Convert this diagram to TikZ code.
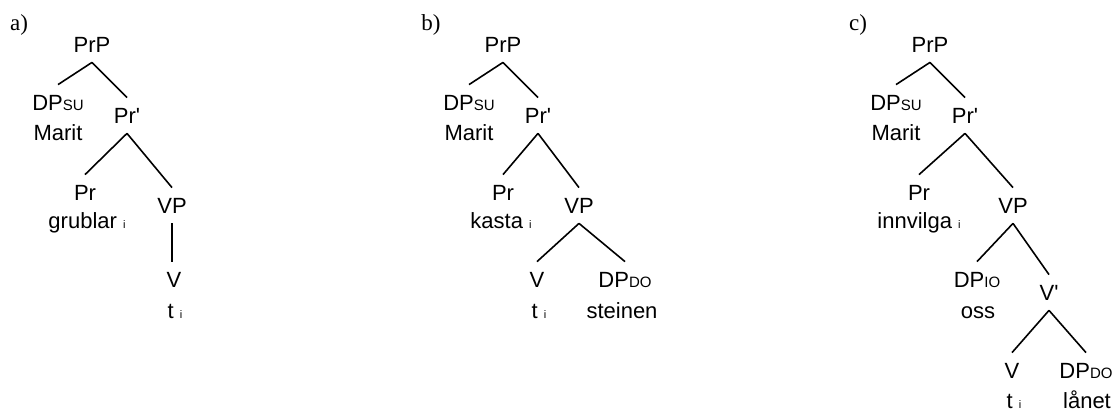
\documentclass[tikz,border=0pt]{standalone}
\usepackage{fontspec}
\newfontfamily\treefont{Liberation Sans}
\newfontfamily\panelfont{Liberation Serif}
\usepackage{tikz}

% small category index (DP_SU etc.) and trace index
\newcommand{\subcat}[1]{{\fontsize{7.5}{8}\selectfont #1}}
\newcommand{\coidx}[1]{{\fontsize{5.5}{6}\selectfont #1}}

\tikzset{
	cat/.style={font=\treefont\fontsize{11}{13}\selectfont, anchor=base,
		text height=7.5pt, text depth=0pt, inner xsep=1pt, inner ysep=5pt},
	panel/.style={font=\panelfont\fontsize{11.5}{13}\selectfont, anchor=base},
	branch/.style={line width=0.8pt}
}

% upper part shared by all three trees: PrP, DP_SU Marit, Pr'
\newcommand{\prtop}[2]{
	\node[cat] (prp#2) at (#1, 52) {PrP};
	\node[cat] (su#2) at (#1-34, 110) {DP\subcat{SU}};
	\node[cat] (marit#2) at (#1-34, 140) {Marit};
	\node[cat] (prbar#2) at (#1+35, 123) {Pr\textquotesingle};
	\draw[branch] (prp#2.south) -- (su#2.north);
	\draw[branch] (prp#2.south) -- (prbar#2.north);
}

\begin{document}
\begin{tikzpicture}[x=0.5pt, y=-0.5pt]
	\useasboundingbox (0,0) rectangle (1118,412);

	% a) grublar
	\node[panel] (labA) at (19, 31) {a)};
	\prtop{92}{A}
	\node[cat] (prA) at (85, 200) {Pr};
	\node[cat] (grublarA) at (87, 228) {grublar \coidx{i}};
	\node[cat] (vpA) at (172, 213) {VP};
	\node[cat] (vA) at (174, 287) {V};
	\node[cat] (tA) at (175, 318) {t \coidx{i}};
	\draw[branch] (prbarA.south) -- (prA.north);
	\draw[branch] (prbarA.south) -- (vpA.north);
	\draw[branch] (vpA.south) -- (vpA.south |- vA.north);

	% b) kasta steinen
	\node[panel] (labB) at (431, 31) {b)};
	\prtop{503}{B}
	\node[cat] (prB) at (503, 200) {Pr};
	\node[cat] (kastaB) at (501, 228) {kasta \coidx{i}};
	\node[cat] (vpB) at (579, 213) {VP};
	\node[cat] (vB) at (537, 287) {V};
	\node[cat] (tB) at (539, 318) {t \coidx{i}};
	\node[cat] (doB) at (625, 287) {DP\subcat{DO}};
	\node[cat] (steinenB) at (622, 318) {steinen};
	\draw[branch] (prbarB.south) -- (prB.north);
	\draw[branch] (prbarB.south) -- (vpB.north);
	\draw[branch] (vpB.south) -- (vB.north);
	\draw[branch] (vpB.south) -- (doB.north);

	% c) innvilga oss laanet
	\node[panel] (labC) at (858, 31) {c)};
	\prtop{930}{C}
	\node[cat] (prC) at (919, 200) {Pr};
	\node[cat] (innvilgaC) at (919, 228) {innvilga \coidx{i}};
	\node[cat] (vpC) at (1013, 213) {VP};
	\node[cat] (ioC) at (977, 287) {DP\subcat{IO}};
	\node[cat] (ossC) at (978, 318) {oss};
	\node[cat] (vbarC) at (1049, 300) {V\textquotesingle};
	\node[cat] (vC) at (1012, 378) {V};
	\node[cat] (tC) at (1014, 408) {t \coidx{i}};
	\node[cat] (doC) at (1086, 378) {DP\subcat{DO}};
	\node[cat] (laanetC) at (1087, 408) {lånet};
	\draw[branch] (prbarC.south) -- (prC.north);
	\draw[branch] (prbarC.south) -- (vpC.north);
	\draw[branch] (vpC.south) -- (ioC.north);
	\draw[branch] (vpC.south) -- (vbarC.north);
	\draw[branch] (vbarC.south) -- (vC.north);
	\draw[branch] (vbarC.south) -- (doC.north);
\end{tikzpicture}
\end{document}
